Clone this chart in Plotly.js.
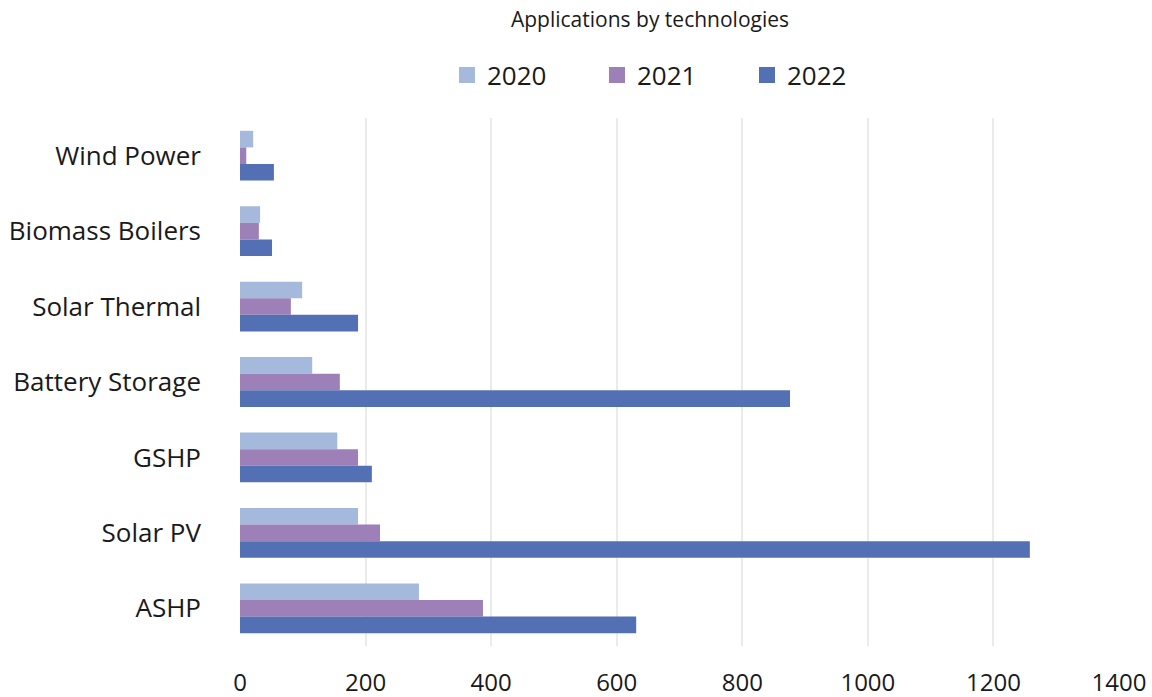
<!DOCTYPE html>
<html>
<head>
<meta charset="utf-8">
<script src="https://cdn.plot.ly/plotly-3.0.1.min.js"></script>
<style>html,body{margin:0;padding:0;background:#fff;}#chart{width:1152px;height:697px;}</style>
</head>
<body>
<div id="chart"></div>
<script>
// Technologies, listed top to bottom
const technologies = ["Wind Power", "Biomass Boilers", "Solar Thermal", "Battery Storage", "GSHP", "Solar PV", "ASHP"];
const years = ["2020", "2021", "2022"];

// Applications per technology for each year
const apps2020 = [21, 32, 99, 115, 155, 188, 285];
const apps2021 = [10, 30, 81, 159, 188, 223, 387];
const apps2022 = [54, 51, 188, 876, 210, 1258, 631];

const xTicks = [0, 200, 400, 600, 800, 1000, 1200, 1400];

const colors = ["#a4b9db", "#9e80b8", "#5370b4"];
const seriesValues = [apps2020, apps2021, apps2022];

const font = "Open Sans, Noto Sans, sans-serif";

const traces = [];
seriesValues.forEach((vals, i) => {
  traces.push({
    type: "bar",
    orientation: "h",
    name: years[i],
    x: vals,
    y: technologies,
    marker: {color: colors[i]},
    showlegend: false,
    hoverinfo: "x+y+name"
  });
});
// Legend entries with larger square swatches
years.forEach((yr, i) => {
  traces.push({
    type: "scatter",
    mode: "markers",
    name: yr,
    x: [null],
    y: [null],
    marker: {symbol: "square", size: 16, color: colors[i]},
    showlegend: true,
    hoverinfo: "skip"
  });
});

const layout = {
  width: 1152,
  height: 697,
  paper_bgcolor: "#ffffff",
  plot_bgcolor: "#ffffff",
  margin: {l: 240, r: 33, t: 118, b: 51},
  font: {family: font, color: "#1a1a1a"},
  title: {
    text: "Applications by technologies",
    font: {size: 21, family: font, color: "#1a1a1a"},
    x: 650 / 1152, xref: "container", xanchor: "center",
    y: 1 - 20 / 697, yref: "container", yanchor: "middle"
  },
  barmode: "group",
  bargap: 0.34,
  bargroupgap: 0,
  legend: {
    orientation: "h",
    x: (672 - 240) / 879, xanchor: "center",
    y: 1 + (118 - 75) / 528, yanchor: "middle",
    font: {size: 26, family: font, color: "#1a1a1a"},
    entrywidth: 105, entrywidthmode: "pixels",
    bgcolor: "rgba(0,0,0,0)"
  },
  xaxis: {
    range: [0, 1400],
    tickvals: xTicks,
    ticktext: xTicks.map(String),
    showgrid: true,
    gridcolor: "#ebebeb",
    gridwidth: 2,
    zeroline: false,
    showline: false,
    ticks: "",
    tickfont: {size: 24, family: font, color: "#1a1a1a"},
    ticklabelstandoff: 20,
    fixedrange: true
  },
  yaxis: {
    type: "category",
    categoryorder: "array",
    categoryarray: technologies,
    autorange: "reversed",
    showgrid: false,
    zeroline: false,
    showline: false,
    ticks: "",
    tickfont: {size: 26, family: font, color: "#1a1a1a"},
    ticklabelstandoff: 38,
    fixedrange: true
  }
};

Plotly.newPlot("chart", traces, layout, {displayModeBar: false, staticPlot: true});
</script>
</body>
</html>
